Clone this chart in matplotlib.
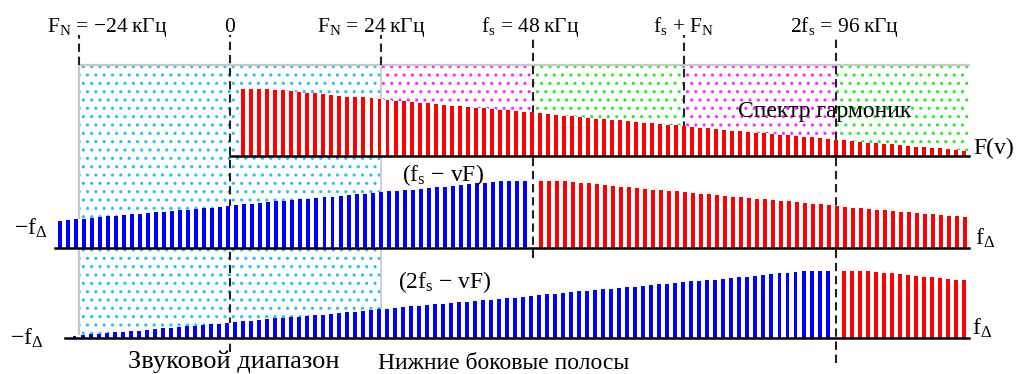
import numpy as np
import matplotlib
matplotlib.use('Agg')
import matplotlib.pyplot as plt
from matplotlib.patches import Rectangle

plt.rcParams.update({'font.family': 'Liberation Serif', 'font.size': 17,
                     'mathtext.fontset': 'custom',
                     'mathtext.rm': 'Liberation Serif',
                     'mathtext.it': 'Liberation Serif:italic',
                     'hatch.linewidth': 1.1})

# amplitude of harmonic n = 1, 2, 3 ... of the spectrum F(v)
harm_amp = [67, 67, 67, 67, 66, 65.5, 65, 64, 63, 62.5,
            61.5, 61, 60, 59, 58.5, 58.5, 57.5, 57, 56, 55,
            54.5, 54, 53, 52.5, 51.5, 51, 50, 49.5, 49, 48,
            47.5, 47, 46, 45.5, 44.5, 44, 43.3, 42.5, 41.5, 40.5,
            40, 39.5, 38.5, 38, 37, 36.5, 36, 35.5, 34.5, 34,
            33, 32.5, 32, 31, 30.5, 29.5, 29, 28, 27.5, 26.5,
            26, 25, 24.5, 23.5, 23, 22.5, 21.5, 21, 20.5, 20,
            19, 18.5, 17.5, 17, 16, 15.5, 14.5, 14, 13, 12.5,
            12, 11.5, 10.5, 10, 9, 8.5, 7.5, 7.5, 6.5, 6,
            5, 4.5, 4, 3, 2.5, 2]

F_STEP = 1.27      # kHz between harmonics
FS = 48            # sampling frequency, kHz
TOP_SHIFT = 0.84   # the top row is drawn a little to the right
F_RIGHT = 117.2

# dashed markers
mark_freq = [-24, 0, 24, 48, 72, 96]
mark_lo = [309, 22, 309, 116, 218.5, 11]
mark_labels = ['$\\mathrm{F_N}$ = −24\u2009кГц', '0', '$\\mathrm{F_N}$ = 24\u2009кГц',
               '$\\mathrm{f_s}$ = 48\u2009кГц', '$\\mathrm{f_s}$ + $\\mathrm{F_N}$',
               '2$\\mathrm{f_s}$ = 96\u2009кГц']
label_x = [-29.0, 0, 13.8, 39.8, 67.1, 88.8]

# shaded zones of the top panel
zone_edges = [-24, 24, 48, 72, 96, F_RIGHT]
zone_colors = ['#28c0f4', '#ff28ff', '#28ec28', '#ff28ff', '#28ec28']

# panel baselines (figure units, y up)
base_top, base_mid, base_bot = 218.5, 126, 35.7
zone_top = 309

fig = plt.figure(figsize=(10.19, 3.74), dpi=100)
ax = fig.add_axes([0, 0, 1, 1])
ax.set_xlim(-230 / 6.308, (1019 - 230) / 6.308)
ax.set_ylim(0, 374)
ax.axis('off')

for i, c in enumerate(zone_colors):
    lo = base_bot if i == 0 else base_top
    ax.add_patch(Rectangle((zone_edges[i], lo), zone_edges[i + 1] - zone_edges[i],
                           zone_top - lo, fill=False, edgecolor=c, hatch='..',
                           lw=0, zorder=0))

ax.plot([-24, F_RIGHT], [zone_top, zone_top], color='#c8c8c8', lw=1.6, zorder=1)
ax.plot([-24, -24], [base_bot, zone_top], color='#c8c8c8', lw=1.6, zorder=1)
ax.plot([24, 24], [base_bot, zone_top], color='#c8c8c8', lw=1.2, zorder=1)

for f, lo in zip(mark_freq, mark_lo):
    ax.plot([f, f], [lo, 339], color='#222222', lw=1.5,
            ls=(0, (4, 2.3)), zorder=2)


def draw_bars(freqs, amps, base, color):
    ax.bar(freqs, amps, width=F_STEP * 1.02, bottom=base, color='white',
           lw=0, zorder=3)
    ax.bar(freqs, amps, width=0.63, bottom=base, color=color, lw=0, zorder=4)


n = np.arange(1, len(harm_amp) + 1)
amp = np.array(harm_amp)

f = n * F_STEP + TOP_SHIFT
m = f <= F_RIGHT
draw_bars(f[m], amp[m], base_top, '#ff0000')

f = FS - n * F_STEP
m = f >= -27.6
draw_bars(f[m], amp[m], base_mid, '#0000ff')
f = FS + n * F_STEP
m = f <= F_RIGHT
draw_bars(f[m], amp[m], base_mid, '#ff0000')

f = 2 * FS - n * F_STEP
m = f >= -25.5
draw_bars(f[m], amp[m], base_bot, '#0000ff')
f = 2 * FS + n * F_STEP
m = f <= F_RIGHT
draw_bars(f[m], amp[m], base_bot, '#ff0000')

ax.plot([0, F_RIGHT], [base_top, base_top], color='black', lw=1.8, zorder=5)
ax.plot([-27.8, F_RIGHT], [base_mid, base_mid], color='black', lw=1.8, zorder=5)
ax.plot([-26.2, F_RIGHT], [base_bot, base_bot], color='black', lw=1.8, zorder=5)

for x, s in zip(label_x, mark_labels):
    ax.text(x, 342, s, ha='center' if s == '0' else 'left', va='baseline',
            fontsize=15.5, zorder=6)

ax.text(80.5, 257.3, 'Спектр гармоник', va='baseline', zorder=6)
ax.text(117.9, 220, 'F(v)', va='baseline', zorder=6)
ax.text(27.3, 193, r'($\mathrm{f_s}$ − vF)', va='baseline', zorder=6)
ax.text(26.6, 86, r'(2$\mathrm{f_s}$ − vF)', va='baseline', zorder=6)
ax.text(-34.2, 139, r'−$\mathrm{f_\Delta}$', va='baseline', zorder=6)
ax.text(-34.9, 29, r'−$\mathrm{f_\Delta}$', va='baseline', zorder=6)
ax.text(118.1, 129, r'$\mathrm{f_\Delta}$', va='baseline', zorder=6)
ax.text(117.6, 39, r'$\mathrm{f_\Delta}$', va='baseline', zorder=6)
ax.text(-16.2, 6, 'Звуковой диапазон', va='baseline', fontsize=19, zorder=6)
ax.text(23.5, 5, 'Нижние боковые полосы', va='baseline', zorder=6)

fig.savefig('out.png', dpi=100)
